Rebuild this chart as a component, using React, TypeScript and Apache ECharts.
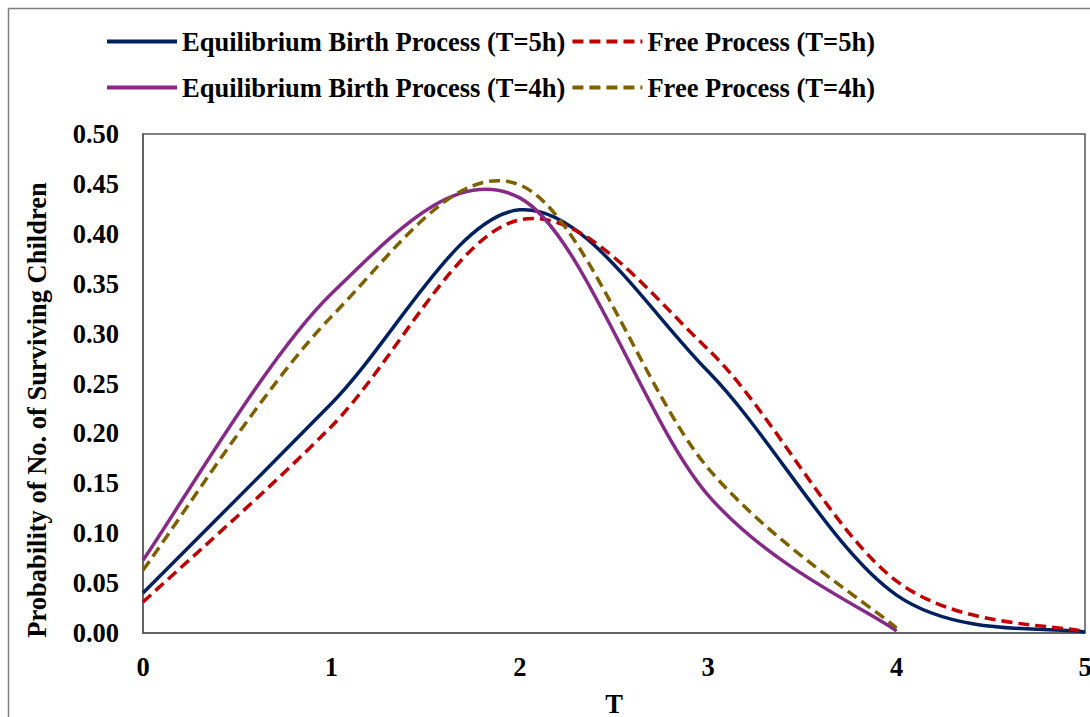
import React, { useEffect, useRef } from "react";
import * as echarts from "echarts";

const xValues = [0, 1, 2, 3, 4, 5];
const eqBirth5h = [0.04, 0.23, 0.424, 0.262, 0.038, 0.001];
const free5h = [0.031, 0.207, 0.414, 0.284, 0.052, 0.001];
const eqBirth4h = [0.073, 0.34, 0.436, 0.138, 0.002];
const free4h = [0.063, 0.317, 0.449, 0.165, 0.005];

const seriesNames = [
  "Equilibrium Birth Process (T=5h)",
  "Free Process (T=5h)",
  "Equilibrium Birth Process (T=4h)",
  "Free Process (T=4h)",
];
const yTitle = "Probability of No. of Surviving Children";
const xTitle = "T";

const FONT = "'Liberation Serif', 'Times New Roman', serif";
const FS = 26.5;

function pairs(vals: number[]) {
  return vals.map((v, i) => [xValues[i], v]);
}

export default function App() {
  const ref = useRef<HTMLDivElement>(null);
  useEffect(() => {
    if (!ref.current) return;
    const chart = echarts.init(ref.current, undefined, { renderer: "svg" });
    const textStyle = { fontFamily: FONT, fontWeight: "bold" as const, fontSize: FS, color: "#000" };

    const styles = [
      { color: "#002060", dashed: false },
      { color: "#C00000", dashed: true },
      { color: "#862A87", dashed: false },
      { color: "#7F6000", dashed: true },
    ];
    const valueSets = [eqBirth5h, free5h, eqBirth4h, free4h];

    // legend carriers (line series, same style as curves)
    const legendSeries = seriesNames.map((name, k) => ({
      name,
      type: "line",
      data: [] as number[][],
      symbol: "none",
      showSymbol: false,
      lineStyle: {
        color: styles[k].color,
        width: 3.5,
        type: styles[k].dashed ? [11, 6] : "solid",
      },
      itemStyle: { color: styles[k].color },
    }));

    // smoothed curves (Excel-like Catmull-Rom through the data points)
    const curveSeries = seriesNames.map((name, k) => {
      const vals = valueSets[k];
      const { color, dashed } = styles[k];
      return {
        name,
        type: "custom",
        data: pairs(vals),
        encode: { x: 0, y: 1 },
        silent: true,
        renderItem: (params: any, api: any) => {
          if (params.dataIndex !== 0) return null;
          const pts: number[][] = vals.map((v, i) => api.coord([xValues[i], v]));
          const n = pts.length;
          let d = `M${pts[0][0]},${pts[0][1]}`;
          for (let i = 0; i < n - 1; i++) {
            const p0 = pts[Math.max(i - 1, 0)];
            const p1 = pts[i];
            const p2 = pts[i + 1];
            const p3 = pts[Math.min(i + 2, n - 1)];
            const c1x = p1[0] + (p2[0] - p0[0]) / 6;
            const c1y = p1[1] + (p2[1] - p0[1]) / 6;
            const c2x = p2[0] - (p3[0] - p1[0]) / 6;
            const c2y = p2[1] - (p3[1] - p1[1]) / 6;
            d += ` C${c1x},${c1y} ${c2x},${c2y} ${p2[0]},${p2[1]}`;
          }
          return {
            type: "path",
            shape: { pathData: d },
            style: {
              fill: "none",
              stroke: color,
              lineWidth: 3.5,
              lineDash: dashed ? [11, 6] : null,
              lineCap: "butt",
            },
          };
        },
      };
    });

    const legendCommon = {
      left: 100,
      itemWidth: 70,
      itemHeight: 14,
      itemGap: 5,
      textStyle,
      itemStyle: { opacity: 0 },
      lineStyle: { width: 4 },
    };

    chart.setOption({
      animation: false,
      backgroundColor: "#fff",
      legend: [
        { ...legendCommon, data: [seriesNames[0], seriesNames[1]], top: 23 },
        { ...legendCommon, data: [seriesNames[2], seriesNames[3]], top: 69 },
      ],
      grid: {
        left: 143,
        right: 5,
        top: 134,
        bottom: 84,
        show: true,
        borderColor: "#595959",
        borderWidth: 1.5,
        containLabel: false,
        outerBoundsMode: "none",
      },
      xAxis: {
        type: "value",
        min: 0,
        max: 5,
        interval: 1,
        name: xTitle,
        nameLocation: "middle",
        nameGap: 57,
        nameTextStyle: textStyle,
        axisLine: { show: true, lineStyle: { color: "#595959", width: 1.5 } },
        axisTick: { show: false },
        splitLine: { show: false },
        axisLabel: { ...textStyle, margin: 20 },
      },
      yAxis: {
        type: "value",
        min: 0,
        max: 0.5,
        interval: 0.05,
        axisLine: { show: true, lineStyle: { color: "#595959", width: 1.5 } },
        axisTick: { show: false },
        splitLine: { show: false },
        axisLabel: { ...textStyle, margin: 24, formatter: (v: number) => v.toFixed(2) },
      },
      graphic: [
        {
          type: "rect",
          shape: { x: 8.5, y: 8.5, width: 1100, height: 730 },
          style: { fill: "none", stroke: "#7f7f7f", lineWidth: 1.5 },
          silent: true,
          z: -10,
        },
        {
          type: "text",
          x: 37,
          y: 410,
          rotation: Math.PI / 2,
          style: {
            text: yTitle,
            font: `bold ${FS}px ${FONT}`,
            fill: "#000",
            textAlign: "center",
            textVerticalAlign: "middle",
          },
        },
      ],
      series: [...legendSeries, ...curveSeries],
    });
    return () => chart.dispose();
  }, []);
  return (
    <div
      ref={ref}
      style={{ position: "fixed", left: 0, top: 0, width: 1090, height: 717, background: "#fff" }}
    />
  );
}
